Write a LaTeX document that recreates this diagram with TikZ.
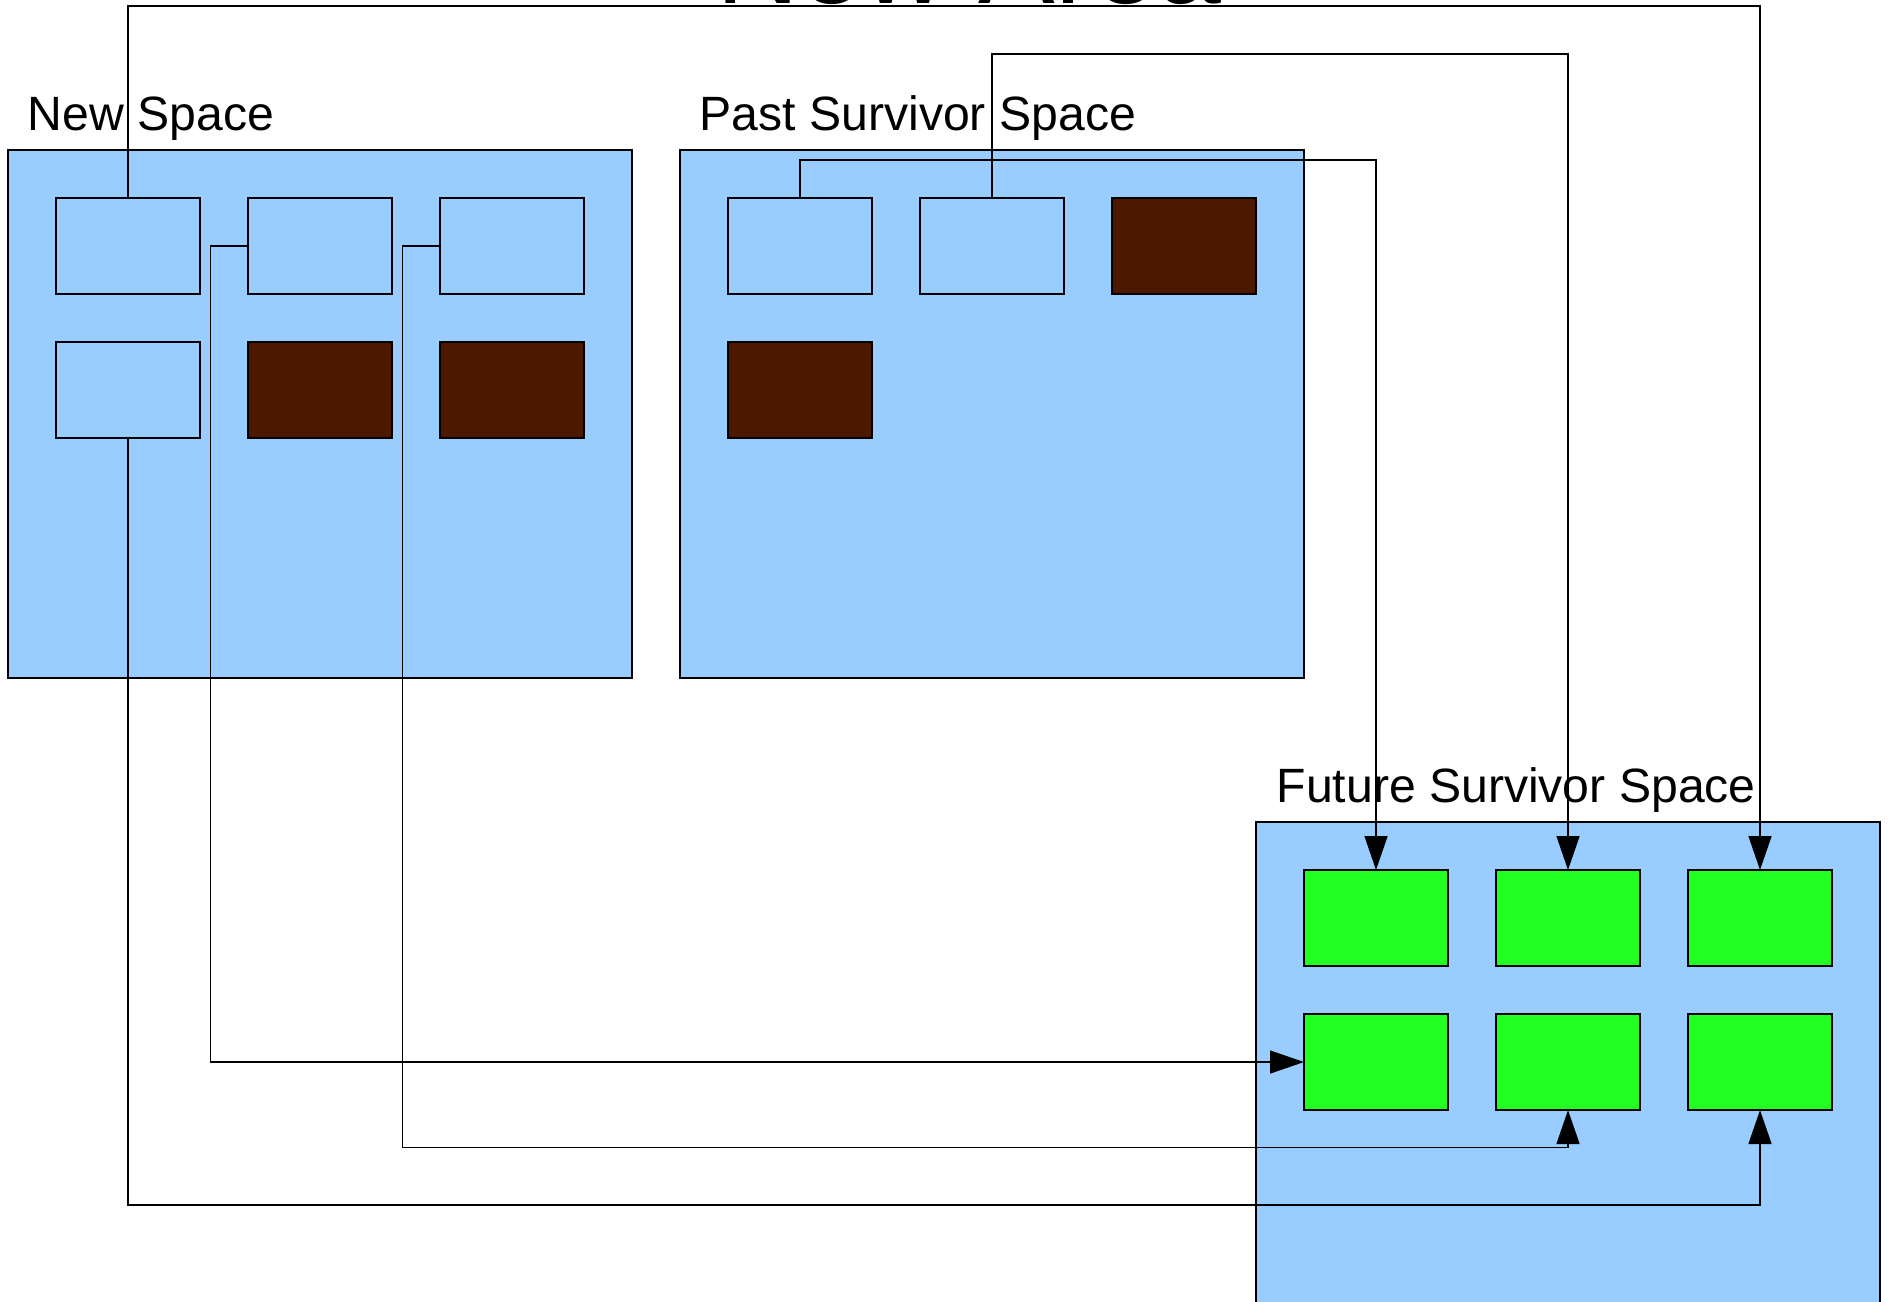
\documentclass[tikz,border=0pt]{standalone}
\usepackage{fontspec}
\setmainfont{Liberation Sans}
\usepackage{xcolor}
\usepackage{tikz}
\usetikzlibrary{positioning,calc,arrows.meta}

\definecolor{spaceblue}{HTML}{99CCFF}
\definecolor{deadbrown}{HTML}{4C1900}
\definecolor{livegreen}{HTML}{22FF22}

\begin{document}
\begin{tikzpicture}[node distance=0.48cm,
        space/.style={draw, fill=spaceblue, rectangle, minimum width=6.24cm, minimum height=5.28cm, inner sep=0pt, outer sep=0pt, anchor=north west},
        cell/.style={draw, rectangle, minimum width=1.44cm, minimum height=0.96cm, inner sep=0pt, outer sep=0pt},
        empty/.style={cell, fill=spaceblue},
        dead/.style={cell, fill=deadbrown},
        live/.style={cell, fill=livegreen},
        spacelabel/.style={anchor=base west, inner sep=0pt, font=\fontsize{13.7}{16}\selectfont},
        every path/.style={line width=0.4pt},
        >={Triangle[length=3.4mm, width=2.3mm]}
    ]
        \useasboundingbox (0,0) rectangle (18.88,-13.01);

        % title, mostly above the page
        \node [anchor=base west, inner sep=0pt, font=\fontsize{32.7}{38}\selectfont] (title) at (7.16,-0.035) {New Area};

        % the three spaces
        \node [space] (new) at (0.08,-1.50) {};
        \node [space] (past) at (6.80,-1.50) {};
        \node [space, minimum height=5.6cm] (future) at (12.56,-8.22) {};

        \node [spacelabel] (newlbl) at ($(new.north west)+(0.19,0.20)$) {New Space};
        \node [spacelabel] (pastlbl) at ($(past.north west)+(0.19,0.20)$) {Past Survivor Space};
        \node [spacelabel] (futurelbl) at ($(future.north west)+(0.20,0.20)$) {Future Survivor Space};

        % new space objects
        \node [empty, below right=0.48cm and 0.48cm of new.north west] (n11) {};
        \node [empty, right=of n11] (n12) {};
        \node [empty, right=of n12] (n13) {};
        \node [empty, below=of n11] (n21) {};
        \node [dead, right=of n21] (n22) {};
        \node [dead, right=of n22] (n23) {};

        % past survivor objects
        \node [empty, below right=0.48cm and 0.48cm of past.north west] (p11) {};
        \node [empty, right=of p11] (p12) {};
        \node [dead, right=of p12] (p13) {};
        \node [dead, below=of p11] (p21) {};

        % future survivor objects
        \node [live, below right=0.48cm and 0.48cm of future.north west] (f11) {};
        \node [live, right=of f11] (f12) {};
        \node [live, right=of f12] (f13) {};
        \node [live, below=of f11] (f21) {};
        \node [live, right=of f21] (f22) {};
        \node [live, right=of f22] (f23) {};

        % lanes for the connectors
        \coordinate (lane1) at (0,-0.06);
        \coordinate (lane2) at (0,-0.54);
        \coordinate (lane3) at (0,-1.60);
        \coordinate (lane5) at (0,-11.475);
        \coordinate (lane6) at (0,-12.05);

        \draw [->] (n11.north) -- (n11.north |- lane1) -| (f13.north);
        \draw [->] (p12.north) -- (p12.north |- lane2) -| (f12.north);
        \draw [->] (p11.north) -- (p11.north |- lane3) -| (f11.north);
        \draw [->] (n12.west) -- ++(-0.373,0) |- (f21.west);
        \draw [->] (n13.west) -- ++(-0.375,0) coordinate (bend5) -- (bend5 |- lane5) -| (f22.south);
        \draw [->] (n21.south) -- (n21.south |- lane6) -| (f23.south); % last one runs under everything

    \end{tikzpicture}
\end{document}
